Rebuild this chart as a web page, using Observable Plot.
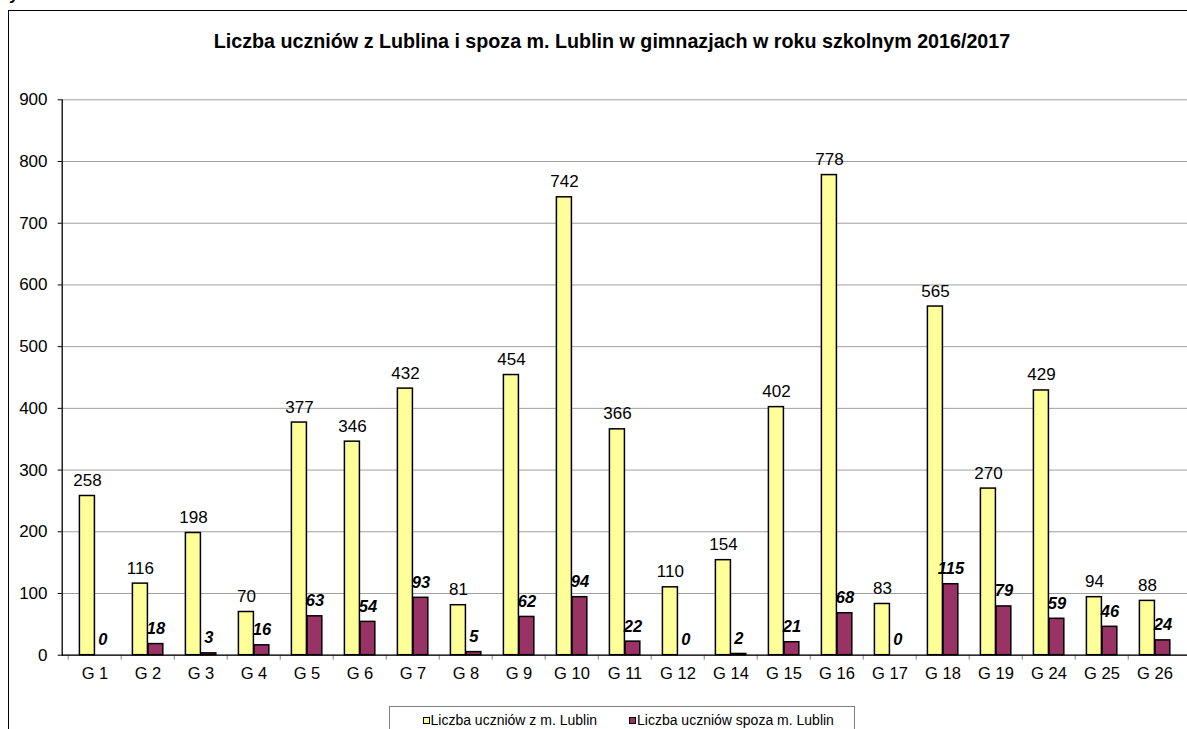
<!DOCTYPE html>
<html><head><meta charset="utf-8">
<script src="https://cdn.jsdelivr.net/npm/d3@7"></script>
<script src="https://cdn.jsdelivr.net/npm/@observablehq/plot@0.6"></script>
<style>
body{margin:0;background:#fff;font-family:Arial,"Liberation Sans",sans-serif;}
#wrap{position:relative;width:1187px;height:729px;overflow:hidden;background:#fff;}
#frame{position:absolute;left:8px;top:10px;width:1300px;height:800px;border:1px solid #000;box-sizing:border-box;}
#ytop{position:absolute;left:9px;top:-14px;font-weight:bold;font-size:17px;line-height:17px;}
#title{position:absolute;left:0;width:1224px;top:31px;text-align:center;font-weight:bold;font-size:19.7px;line-height:20px;color:#000;white-space:nowrap;}
#chart{position:absolute;left:0;top:0;}
#legend{position:absolute;left:389px;top:706px;width:466px;height:40px;border:1px solid #808080;box-sizing:border-box;background:#fff;font-size:14px;}
.sw{position:absolute;top:10px;width:5px;height:5px;border:1px solid #000;}
.lt{position:absolute;top:5px;line-height:16px;white-space:nowrap;}
</style>
</head><body>
<div id="wrap">
  <div id="frame"></div>
  <div id="ytop">y</div>
  <div id="title"></div>
  <div id="chart"></div>
  <div id="legend"></div>
</div>
<script>
const titleText = "Liczba uczniów z Lublina i spoza m. Lublin w gimnazjach w roku szkolnym 2016/2017";
const schools = ["G 1","G 2","G 3","G 4","G 5","G 6","G 7","G 8","G 9","G 10","G 11","G 12","G 14","G 15","G 16","G 17","G 18","G 19","G 24","G 25","G 26"];
const fromLublin = [258,116,198,70,377,346,432,81,454,742,366,110,154,402,778,83,565,270,429,94,88];
const outsideLublin = [0,18,3,16,63,54,93,5,62,94,22,0,2,21,68,0,115,79,59,46,24];
const yTicks = [0,100,200,300,400,500,600,700,800,900];
const seriesNames = ["Liczba uczniów z m. Lublin","Liczba uczniów spoza m. Lublin"];
const colors = ["#FFFF99","#993366"];

document.getElementById("title").textContent = titleText;

const rows = schools.map((s,i)=>({school:s, z:fromLublin[i], s:outsideLublin[i]}));

const W = 1187, H = 729, ML = 61.7, MR = 0, MT = 99.3, MB = 74.3;
const bw = (W - ML - MR) / schools.length;
const pxPerUnit = (H - MT - MB) / 900;

const chart = Plot.plot({
  width: W, height: H,
  marginLeft: ML, marginRight: MR, marginTop: MT, marginBottom: MB,
  style: {fontFamily: "Arial, 'Liberation Sans', sans-serif", fontSize: "16px", background: "transparent", overflow: "visible", color: "#000"},
  x: {domain: schools, padding: 0, label: null},
  y: {domain: [0, 900], label: null},
  marks: [
    Plot.gridY(yTicks, {stroke: "#a0a0a0", strokeOpacity: 1, strokeWidth: 1}),
    Plot.barY(rows, {x: "school", y: "z", fill: colors[0], stroke: "#000", strokeWidth: 1.5, insetLeft: 11.4, insetRight: bw - 27}),
    Plot.barY(rows, {x: "school", y: "s", fill: colors[1], stroke: "#000", strokeWidth: 1.5, insetLeft: 27, insetRight: bw - 42.4}),
    Plot.ruleX(schools, {x: d => d, dx: -bw/2, y1: 0, y2: -5 / pxPerUnit, stroke: "#808080"}),
    Plot.ruleY([0], {stroke: "#000", strokeWidth: 1.3}),
    Plot.frame({anchor: "left", stroke: "#000", strokeWidth: 1.3}),
    Plot.axisY(yTicks, {tickSize: 4, tickPadding: 10.7, stroke: "#000", fill: "#000", fontSize: 17, label: null}),
    Plot.axisX({tickSize: 0, tickPadding: 12, fill: "#000", fontSize: 16.5, label: null}),
    Plot.text(rows, {x: "school", y: "z", text: d => String(d.z), dx: 19.2 - bw/2, dy: -10, lineAnchor: "bottom", fontSize: 17, fill: "#000"}),
    Plot.text(rows, {x: "school", y: "s", text: d => String(d.s), dx: 34.7 - bw/2, dy: -10, lineAnchor: "bottom", fontSize: 16.5, fontWeight: "bold", fontStyle: "italic", fill: "#000"})
  ]
});
document.getElementById("chart").appendChild(chart);

const leg = document.getElementById("legend");
const positions = [[33, 40.5], [239, 247]];
seriesNames.forEach((n,i)=>{
  const sw = document.createElement("div");
  sw.className = "sw"; sw.style.left = positions[i][0] + "px"; sw.style.background = colors[i];
  leg.appendChild(sw);
  const t = document.createElement("div");
  t.className = "lt"; t.style.left = positions[i][1] + "px"; t.textContent = n;
  leg.appendChild(t);
});
</script>
</body></html>
